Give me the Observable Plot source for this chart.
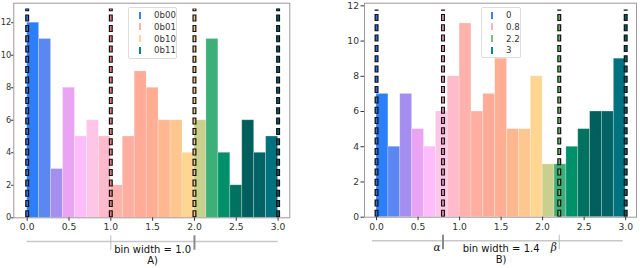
<!DOCTYPE html>
<html>
<head>
<meta charset="utf-8">
<script src="https://cdn.jsdelivr.net/npm/d3@7"></script>
<script src="https://cdn.jsdelivr.net/npm/@observablehq/plot@0.6"></script>
<style>
  html, body { margin: 0; padding: 0; background: #fff; }
  #wrap { position: relative; width: 640px; height: 268px; overflow: hidden; font-family: "DejaVu Sans", sans-serif; }
  .panel { position: absolute; top: 0; }
  .legend { position: absolute; background: rgba(255,255,255,0.85); border: 1px solid #dcdcdc; border-radius: 2px; box-sizing: border-box; }
  .legend .row { position: absolute; left: 0; right: 0; height: 10px; }
  .legend .mk { position: absolute; width: 2px; height: 7px; }
  .legend .lb { position: absolute; font-size: 8.6px; color: #333; line-height: 10px; }
</style>
</head>
<body>
<div id="wrap"></div>
<script>
// ---- data ----
const binLo = 0, binHi = 3, binCount = 21;
const countsA = [12, 11, 3, 8, 5, 6, 5, 2, 5, 9, 8, 6, 6, 4, 6, 11, 4, 2, 6, 4, 5];
const countsB = [7, 4, 7, 5, 4, 6, 8, 11, 6, 7, 9, 5, 5, 8, 3, 3, 4, 5, 6, 6, 9];
const binColors = ["#2d7ff9", "#5b87f2", "#a48ff0", "#e9a4f3", "#fdbdfb", "#fec6e6", "#ffbacb",
                   "#ffb1ab", "#ffaea0", "#ffab98", "#ffae94", "#ffb78f", "#ffc68f", "#ffd592",
                   "#c9d08e", "#3daf78", "#00906a", "#00725f", "#005f5d", "#006466", "#00717f"];
const dividersA = [0, 1, 2, 3];
const dividerColorsA = ["#2d6fe0", "#e57b80", "#f0c27a", "#005f6c"];
const legendLabelsA = ["0b00", "0b01", "0b10", "0b11"];
const legendColorsA = ["#3c7cf5", "#ffb0a8", "#ffd490", "#00868a"];
const dividersB = [0, 0.8, 2.2, 3];
const dividerColorsB = ["#2d6fe0", "#f0a0b8", "#6db86d", "#005f6c"];
const legendLabelsB = ["0", "0.8", "2.2", "3"];
const legendColorsB = ["#3c7cf5", "#ffb0c8", "#7fbf7f", "#008a8a"];
const xTicks = [0, 0.5, 1, 1.5, 2, 2.5, 3];
const yTicks = [0, 2, 4, 6, 8, 10, 12];
const binWidthLabelA = "bin width = 1.0";
const binWidthLabelB = "bin width = 1.4";
const panelLabelA = "A)";
const panelLabelB = "B)";
const bracketA = {lo: 0, hi: 3, ticks: [1, 2], tickColors: ["#bdbdbd", "#8a8a8a"], tickWidths: [1, 2]};
const bracketB = {lo: -0.05, hi: 2.97, ticks: [0.8, 2.2], tickColors: ["#8a8a8a", "#bdbdbd"], tickWidths: [2, 1]};
const greekB = [{x: 0.8, t: "α"}, {x: 2.2, t: "β"}];

function binsFrom(counts) {
  const w = (binHi - binLo) / binCount;
  return counts.map((c, i) => ({x1: binLo + i * w, x2: binLo + (i + 1) * w, y: c, fill: binColors[i]}));
}

function panel(opts) {
  const bins = binsFrom(opts.counts);
  const top = d3.max(opts.counts) * 1.07;
  const divs = opts.dividers.map((x, i) => ({x, c: opts.dividerColors[i]}));
  const br = opts.bracket;
  const ticks = br.ticks.map((x, i) => ({x, c: br.tickColors[i], w: br.tickWidths[i]}));
  const mid = (binLo + binHi) / 2;
  const marks = [
    Plot.rectY(bins, {x1: "x1", x2: "x2", y: "y", fill: "fill", stroke: "white", strokeOpacity: 0.3, strokeWidth: 0.8}),
    Plot.ruleX(divs, {x: "x", y1: 0, y2: top, stroke: "#111", strokeWidth: 4, strokeDasharray: "7,3.3"}),
    Plot.ruleX(divs, {x: "x", y1: 0, y2: top, stroke: "c", strokeWidth: 1.6, strokeDasharray: "5,5.3", strokeDashoffset: -1}),
    Plot.frame({stroke: "#a09696", strokeWidth: 1}),
    Plot.axisX({ticks: xTicks, tickFormat: ".1f", tickSize: 3.5, tickPadding: 2.5, fontSize: 9.2, color: "#333", label: null}),
    Plot.axisY({ticks: yTicks, tickSize: opts.yTick, tickPadding: opts.yPad, fontSize: opts.yFont, color: "#333", label: null}),
    Plot.ruleY([0], {x1: br.lo, x2: br.hi, dy: 23.6, stroke: "#c8c8c8", strokeWidth: 1.5}),
    Plot.ruleX(ticks, {x: "x", y1: 0, y2: 0, dy: 25.2, insetTop: -7.2, insetBottom: -7.2, stroke: "c", strokeWidth: "w"}),
    Plot.text([opts.binLabel], {x: mid, y: 0, dy: 31.8, text: d => d, fontSize: 10, fill: "#111", lineAnchor: "middle"}),
    Plot.text([opts.panelLabel], {x: mid, y: 0, dy: 43, text: d => d, fontSize: 10, fill: "#111", lineAnchor: "middle"})
  ];
  if (opts.greek) {
    marks.push(Plot.text(opts.greek, {x: "x", y: 0, dy: 30.5, dx: -2.5, text: "t", textAnchor: "end", fontSize: 10.5,
      fontStyle: "italic", fontFamily: "DejaVu Serif", fill: "#111", lineAnchor: "middle"}));
  }
  return Plot.plot({
    width: 320, height: 268,
    marginLeft: opts.ml, marginRight: opts.mr, marginTop: 2.7, marginBottom: opts.mb,
    style: {fontFamily: "DejaVu Sans", background: "transparent", overflow: "visible"},
    x: {domain: opts.xDomain, label: null},
    y: {domain: opts.yDomain, label: null},
    color: {type: "identity"},
    marks
  });
}

const wrap = document.getElementById("wrap");

const pA = panel({counts: countsA, dividers: dividersA, dividerColors: dividerColorsA, bracket: bracketA,
  binLabel: binWidthLabelA, panelLabel: panelLabelA, ml: 13.3, mr: 30.7, mb: 50.7, yPad: 0.4, yTick: 2.2, yFont: 8.3,
  xDomain: [-0.16, 3.14], yDomain: [0, 13.2]});
pA.classList.add("panel"); pA.style.left = "0px";
wrap.appendChild(pA);

const pB = panel({counts: countsB, dividers: dividersB, dividerColors: dividerColorsB, bracket: bracketB,
  binLabel: binWidthLabelB, panelLabel: panelLabelB, ml: 44, mr: 4, mb: 51.3, yPad: 2, yTick: 3.5, yFont: 9.2,
  xDomain: [-0.145, 3.13], yDomain: [0, 12.15], greek: greekB});
pB.classList.add("panel"); pB.style.left = "320px";
wrap.appendChild(pB);

function legend(labels, colors, box) {
  const el = document.createElement("div");
  el.className = "legend";
  Object.assign(el.style, {left: box.x + "px", top: box.y + "px", width: box.w + "px", height: box.h + "px"});
  labels.forEach((lab, i) => {
    const row = document.createElement("div");
    row.className = "row";
    row.style.top = (box.rows[i] - box.y - 5) + "px";
    const mk = document.createElement("div");
    mk.className = "mk";
    Object.assign(mk.style, {left: (box.mk - box.x - 1) + "px", top: "1.5px", background: colors[i]});
    const lb = document.createElement("div");
    lb.className = "lb";
    lb.style.left = (box.tx - box.x) + "px";
    lb.textContent = lab;
    row.appendChild(mk); row.appendChild(lb);
    el.appendChild(row);
  });
  wrap.appendChild(el);
}
legend(legendLabelsA, legendColorsA, {x: 127.5, y: 6.5, w: 49, h: 52, mk: 139, tx: 153, rows: [14, 25.8, 37.6, 49.4]});
legend(legendLabelsB, legendColorsB, {x: 481, y: 7, w: 40, h: 51, mk: 490.7, tx: 505, rows: [14, 25.8, 37.6, 49.4]});
</script>
</body>
</html>
